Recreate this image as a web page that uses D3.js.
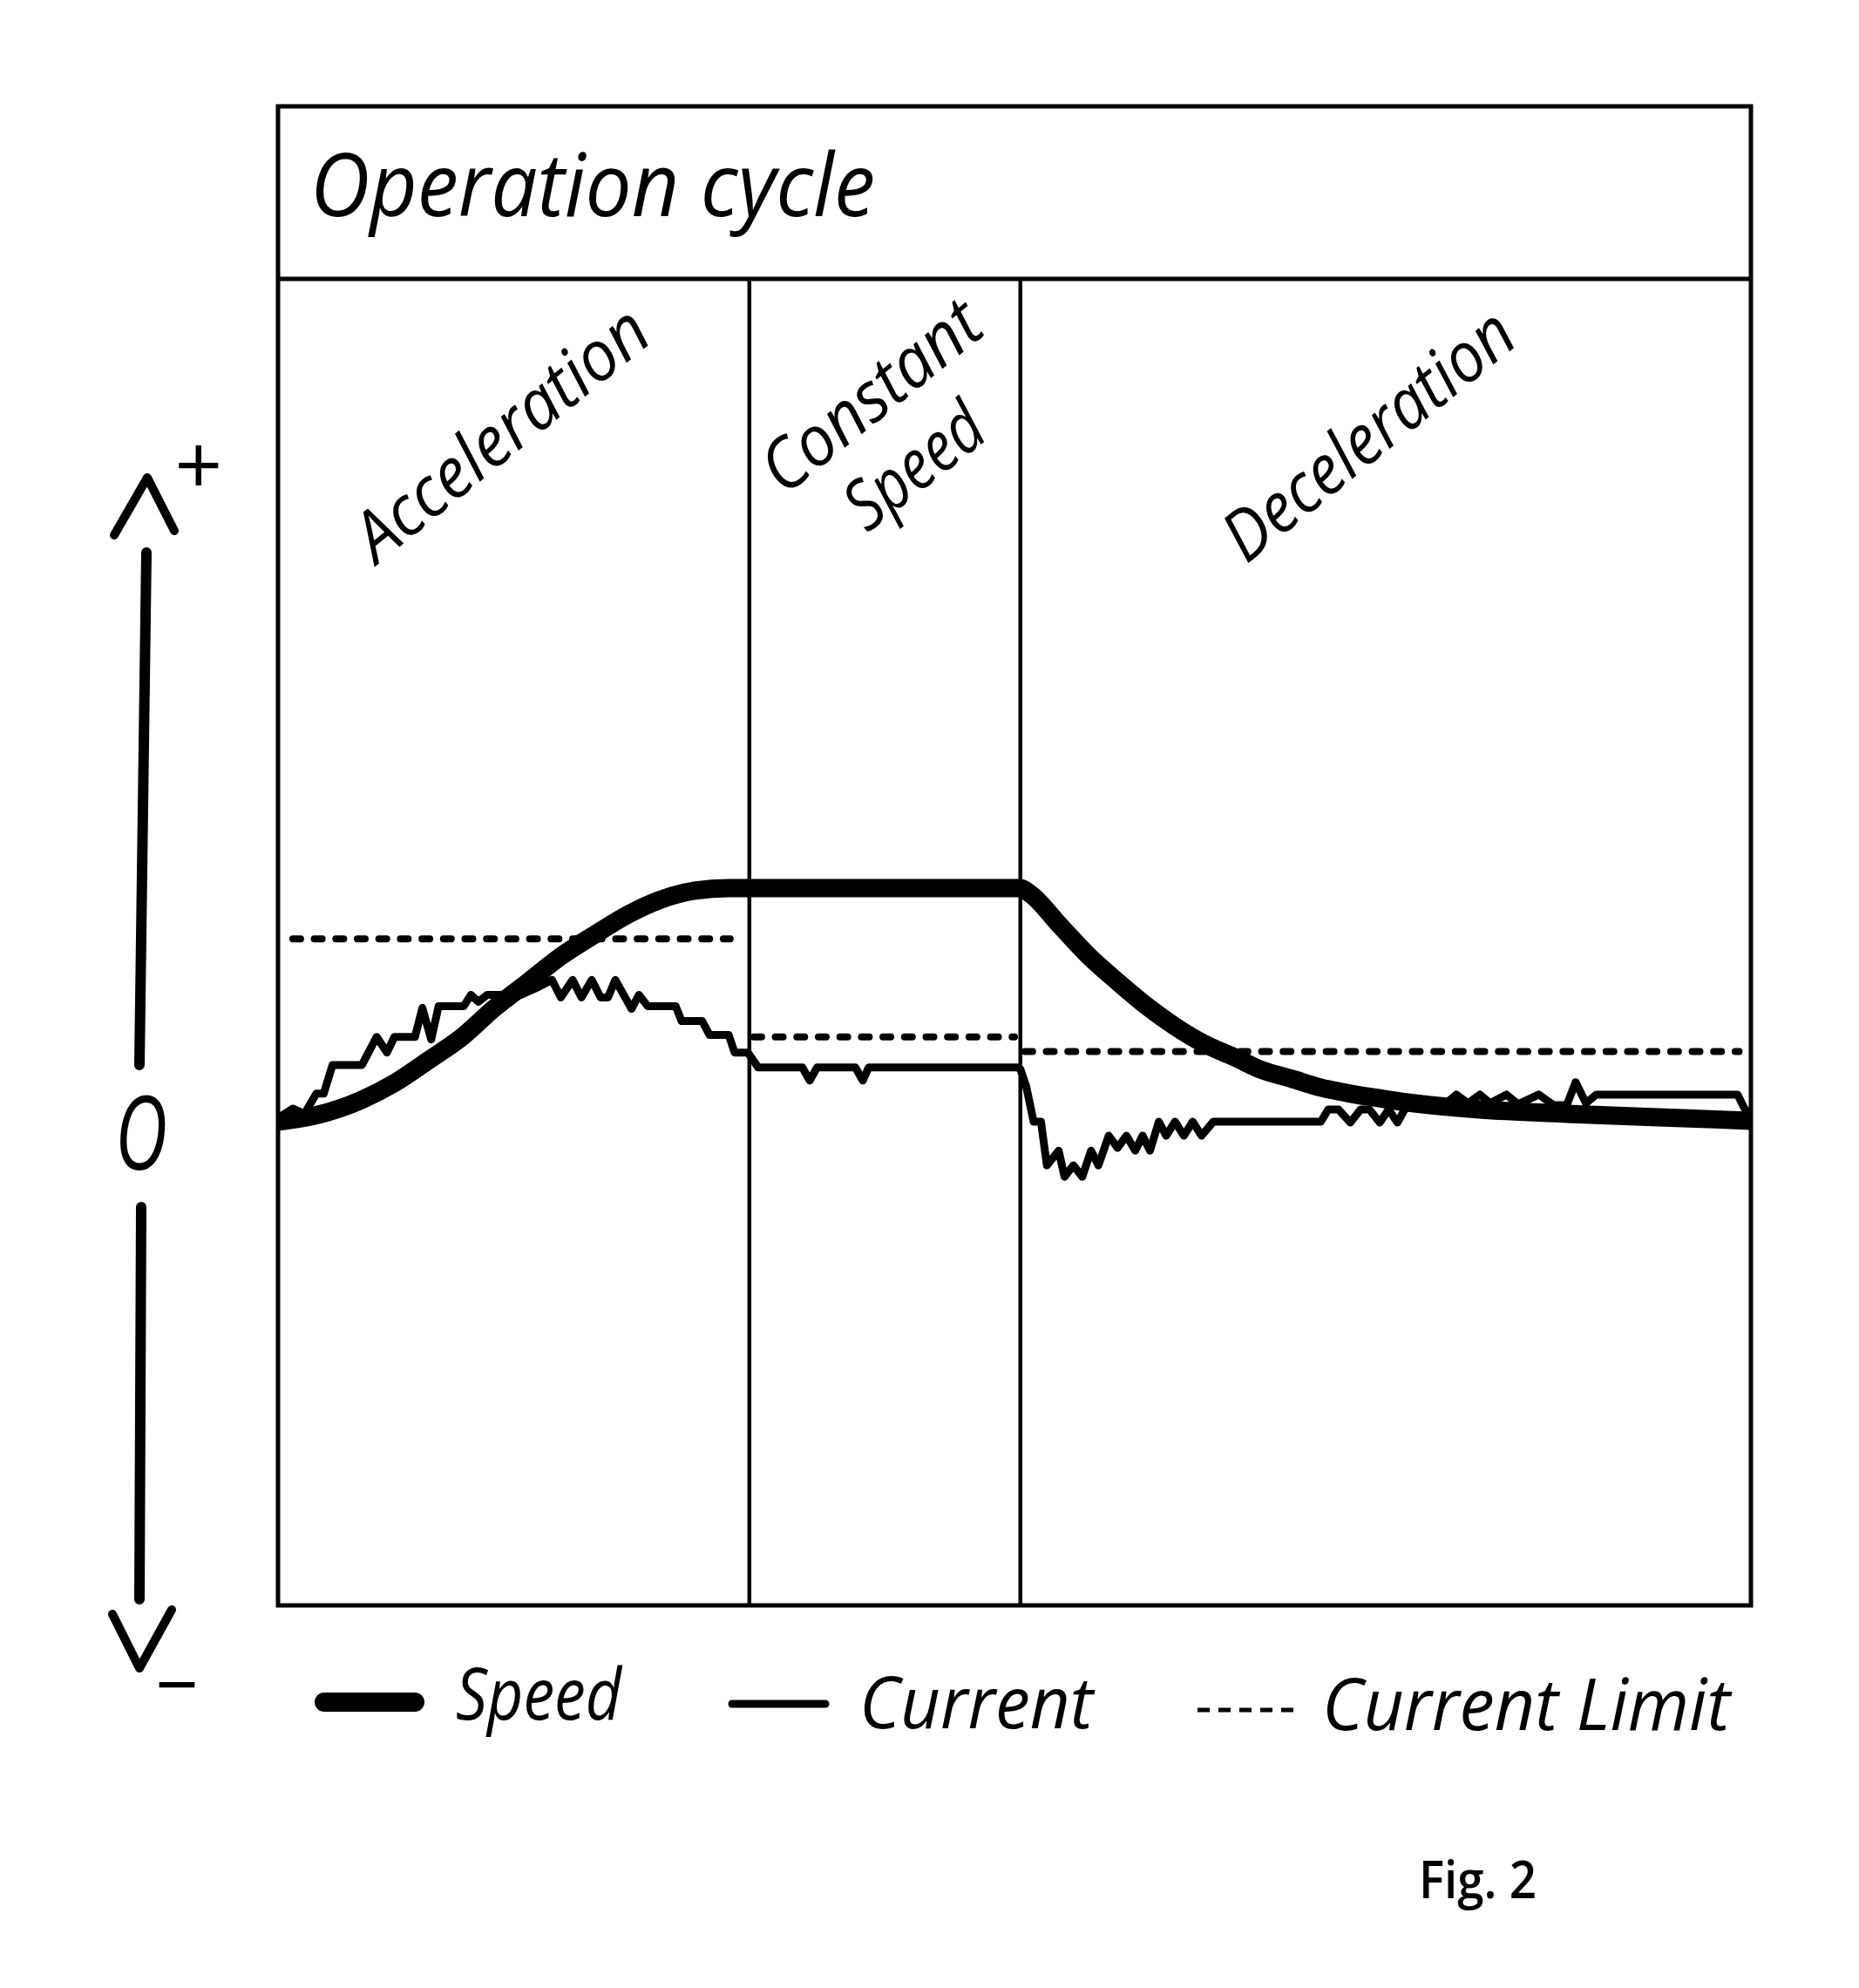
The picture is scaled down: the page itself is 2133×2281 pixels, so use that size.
<!DOCTYPE html>
<html>
<head>
<meta charset="utf-8">
<script src="https://cdn.jsdelivr.net/npm/d3@7"></script>
<style>
  body { margin: 0; background: #fff; }
  .hand { font-family: "Open Sans", sans-serif; font-style: italic; fill: #000; }
</style>
</head>
<body>
<script>
const width = 2133,
  height = 2281;

// time in s, values in % of top speed
const speedT = [0, 0.25, 0.57, 0.79, 1.02, 1.25, 1.47, 1.70, 1.92, 2.15, 2.38, 2.60, 2.83, 3.06, 5.04, 5.11, 5.31, 5.50, 5.70, 5.90, 6.09, 6.29, 6.49, 6.68, 6.88, 7.08, 7.28, 7.47, 7.67, 8.16, 8.75, 9.54, 10.0];
const speedV = [0, 2.6, 9.4, 16.5, 26.2, 36.3, 48.7, 59.9, 70.8, 80.1, 88.8, 95.1, 98.9, 100, 100, 97.4, 83.9, 71.2, 59.9, 49.4, 40.8, 33.3, 27.7, 22.1, 18.4, 14.6, 12.0, 10.1, 8.2, 5.2, 3.4, 1.5, 0.4];

const currentT = [0.00, 0.10, 0.18, 0.26, 0.31, 0.37, 0.57, 0.67, 0.74, 0.79, 0.93, 0.98, 1.04, 1.09, 1.26, 1.31, 1.36, 1.42, 1.65, 1.77, 1.86, 1.92, 2.00, 2.06, 2.13, 2.19, 2.24, 2.29, 2.40, 2.45, 2.51, 2.70, 2.74, 2.88, 2.93, 3.06, 3.10, 3.19, 3.26, 3.56, 3.61, 3.66, 3.92, 3.97, 4.01, 5.02, 5.04, 5.08, 5.13, 5.18, 5.22, 5.30, 5.34, 5.40, 5.46, 5.52, 5.57, 5.64, 5.70, 5.76, 5.82, 5.87, 5.92, 5.98, 6.03, 6.09, 6.15, 6.21, 6.27, 6.35, 7.08, 7.13, 7.20, 7.28, 7.35, 7.41, 7.48, 7.54, 7.60, 7.66, 7.81, 7.93, 8.00, 8.08, 8.16, 8.23, 8.34, 8.42, 8.56, 8.66, 8.75, 8.81, 8.88, 8.95, 9.91, 9.95, 10.0];
const currentV = [1.5, 5.6, 3.4, 12.0, 12.0, 24.3, 24.3, 36.3, 29.6, 36.3, 36.3, 48.7, 35.2, 49.4, 49.4, 54.3, 51.3, 54.3, 54.3, 57.7, 60.7, 53.2, 60.7, 53.2, 60.7, 53.2, 53.2, 60.7, 48.3, 54.3, 49.4, 49.4, 43.1, 43.1, 37.1, 37.1, 29.6, 29.6, 23.2, 23.2, 17.6, 23.2, 23.2, 17.6, 23.2, 23.2, 22.5, 15.0, 0, 0, -18.7, -12.4, -23.6, -18.7, -23.6, -12.4, -18.7, -6.0, -11.2, -6.0, -12.4, -6.0, -12.4, 0, -6.0, 0, -6.0, 0, -6.0, 0, 0, 5.2, 5.2, -0.4, 5.2, 5.2, -0.4, 5.2, -0.4, 6.4, 7.1, 7.9, 11.6, 7.9, 11.6, 7.9, 11.6, 7.5, 11.6, 7.1, 7.1, 16.9, 7.9, 11.6, 11.6, 6.4, 1.5];

// current limit, one level per phase
const limitFrom = [0.1, 3.23, 5.07];
const limitTo = [3.07, 5.0, 9.92];
const limitV = [78.3, 36.3, 30.0];

const phaseEnds = [3.2, 5.04];
const phaseNames = ['Acceleration', 'Constant', 'Speed', 'Deceleration'];
const legendNames = ['Speed', 'Current', 'Current Limit'];
const title = 'Operation cycle';

const box = { left: 319, right: 2009, top: 122, head: 320, bottom: 1842 };

const x = d3.scaleLinear().domain([0, 10]).range([box.left, box.right]);
const y = d3.scaleLinear().domain([0, 100]).range([1287, 1019]);

const svg = d3
  .select('body')
  .append('svg')
  .attr('width', width)
  .attr('height', height);

svg.append('rect').attr('width', width).attr('height', height).attr('fill', '#fff');

svg
  .append('clipPath')
  .attr('id', 'plot')
  .append('rect')
  .attr('x', box.left)
  .attr('y', box.head)
  .attr('width', box.right - box.left)
  .attr('height', box.bottom - box.head);

// frame + title band
svg
  .append('rect')
  .attr('x', box.left)
  .attr('y', box.top)
  .attr('width', box.right - box.left)
  .attr('height', box.bottom - box.top)
  .attr('fill', 'none')
  .attr('stroke', '#000')
  .attr('stroke-width', 5);

svg
  .append('line')
  .attr('x1', box.left)
  .attr('x2', box.right)
  .attr('y1', box.head)
  .attr('y2', box.head)
  .attr('stroke', '#000')
  .attr('stroke-width', 5);

svg
  .selectAll('.divider')
  .data(phaseEnds)
  .join('line')
  .attr('class', 'divider')
  .attr('x1', d => x(d))
  .attr('x2', d => x(d))
  .attr('y1', box.head)
  .attr('y2', box.bottom)
  .attr('stroke', '#000')
  .attr('stroke-width', 4.5);

svg
  .append('text')
  .attr('class', 'hand')
  .attr('x', 356)
  .attr('y', 248)
  .attr('font-size', 100)
  .attr('textLength', 648)
  .attr('lengthAdjust', 'spacingAndGlyphs')
  .text(title);

// rotated phase labels
const labelPos = [
  { x: 433, y: 648, len: 410, rot: -39 },
  { x: 900, y: 570, len: 300, rot: -39 },
  { x: 995, y: 612, len: 180, rot: -38 },
  { x: 1430, y: 648, len: 405, rot: -39 }
];
svg
  .selectAll('.phase')
  .data(phaseNames)
  .join('text')
  .attr('class', 'hand phase')
  .attr('transform', (d, i) => `translate(${labelPos[i].x},${labelPos[i].y}) rotate(${labelPos[i].rot})`)
  .attr('font-size', 80)
  .attr('textLength', (d, i) => labelPos[i].len)
  .attr('lengthAdjust', 'spacingAndGlyphs')
  .text(d => d);

const plot = svg.append('g').attr('clip-path', 'url(#plot)');

// current limit (dashed)
plot
  .selectAll('.limit')
  .data(limitV)
  .join('line')
  .attr('class', 'limit')
  .attr('x1', (d, i) => x(limitFrom[i]))
  .attr('x2', (d, i) => x(limitTo[i]))
  .attr('y1', d => y(d))
  .attr('y2', d => y(d))
  .attr('stroke', '#000')
  .attr('stroke-width', 8)
  .attr('stroke-linecap', 'round')
  .attr('stroke-dasharray', '9,15.7');

const current = currentT.map((t, i) => [t, currentV[i]]);
const speed = speedT.map((t, i) => [t, speedV[i]]);

plot
  .append('path')
  .datum(current)
  .attr('fill', 'none')
  .attr('stroke', '#000')
  .attr('stroke-width', 9)
  .attr('stroke-linejoin', 'round')
  .attr('stroke-linecap', 'round')
  .attr('d', d3.line().x(d => x(d[0])).y(d => y(d[1])));

plot
  .append('path')
  .datum(speed)
  .attr('fill', 'none')
  .attr('stroke', '#000')
  .attr('stroke-width', 21)
  .attr('stroke-linejoin', 'round')
  .attr('d', d3.line().curve(d3.curveMonotoneX).x(d => x(d[0])).y(d => y(d[1])));

// hand drawn y axis: arrows, +, 0, -
const axis = svg.append('g').attr('fill', 'none').attr('stroke', '#000').attr('stroke-linecap', 'round').attr('stroke-linejoin', 'round');
axis.append('path').attr('d', 'M131,614 L169,548 L200,609').attr('stroke-width', 10);
axis.append('path').attr('d', 'M168,634 L160,1222').attr('stroke-width', 12);
axis.append('path').attr('d', 'M162,1385 L160,1835').attr('stroke-width', 12);
axis.append('path').attr('d', 'M129,1852 L160,1914 L197,1847').attr('stroke-width', 10);

svg
  .append('text')
  .attr('class', 'hand')
  .attr('x', 226)
  .attr('y', 568)
  .attr('font-size', 96)
  .attr('text-anchor', 'middle')
  .text('+');

svg
  .append('text')
  .attr('class', 'hand')
  .attr('x', 162)
  .attr('y', 1342)
  .attr('font-size', 118)
  .attr('text-anchor', 'middle')
  .attr('textLength', 60)
  .attr('lengthAdjust', 'spacingAndGlyphs')
  .text('O');

svg
  .append('text')
  .attr('class', 'hand')
  .attr('x', 202)
  .attr('y', 1965)
  .attr('font-size', 90)
  .attr('text-anchor', 'middle')
  .text('\u2212');

// legend
const legendKeys = [
  { x1: 372, x2: 476, y: 1953, w: 22, cap: 'round', dash: null },
  { x1: 840, x2: 947, y: 1955, w: 9, cap: 'round', dash: null },
  { x1: 1374, x2: 1484, y: 1962, w: 5, cap: 'butt', dash: '14,10' }
];
const legendText = [
  { x: 523, y: 1973, len: 190 },
  { x: 986, y: 1983, len: 268 },
  { x: 1517, y: 1985, len: 468 }
];
const legend = svg.append('g');
legend
  .selectAll('line')
  .data(legendNames)
  .join('line')
  .attr('x1', (d, i) => legendKeys[i].x1)
  .attr('x2', (d, i) => legendKeys[i].x2)
  .attr('y1', (d, i) => legendKeys[i].y)
  .attr('y2', (d, i) => legendKeys[i].y)
  .attr('stroke', '#000')
  .attr('stroke-width', (d, i) => legendKeys[i].w)
  .attr('stroke-linecap', (d, i) => legendKeys[i].cap)
  .attr('stroke-dasharray', (d, i) => legendKeys[i].dash);
legend
  .selectAll('text')
  .data(legendNames)
  .join('text')
  .attr('class', 'hand')
  .attr('x', (d, i) => legendText[i].x)
  .attr('y', (d, i) => legendText[i].y)
  .attr('font-size', 82)
  .attr('textLength', (d, i) => legendText[i].len)
  .attr('lengthAdjust', 'spacingAndGlyphs')
  .text(d => d);

svg
  .append('text')
  .attr('x', 1628)
  .attr('y', 2178)
  .attr('font-family', '"Open Sans", "Noto Sans", sans-serif')
  .attr('font-size', 60)
  .attr('font-weight', 600)
  .attr('textLength', 135)
  .attr('lengthAdjust', 'spacingAndGlyphs')
  .text('Fig. 2');
</script>
</body>
</html>
